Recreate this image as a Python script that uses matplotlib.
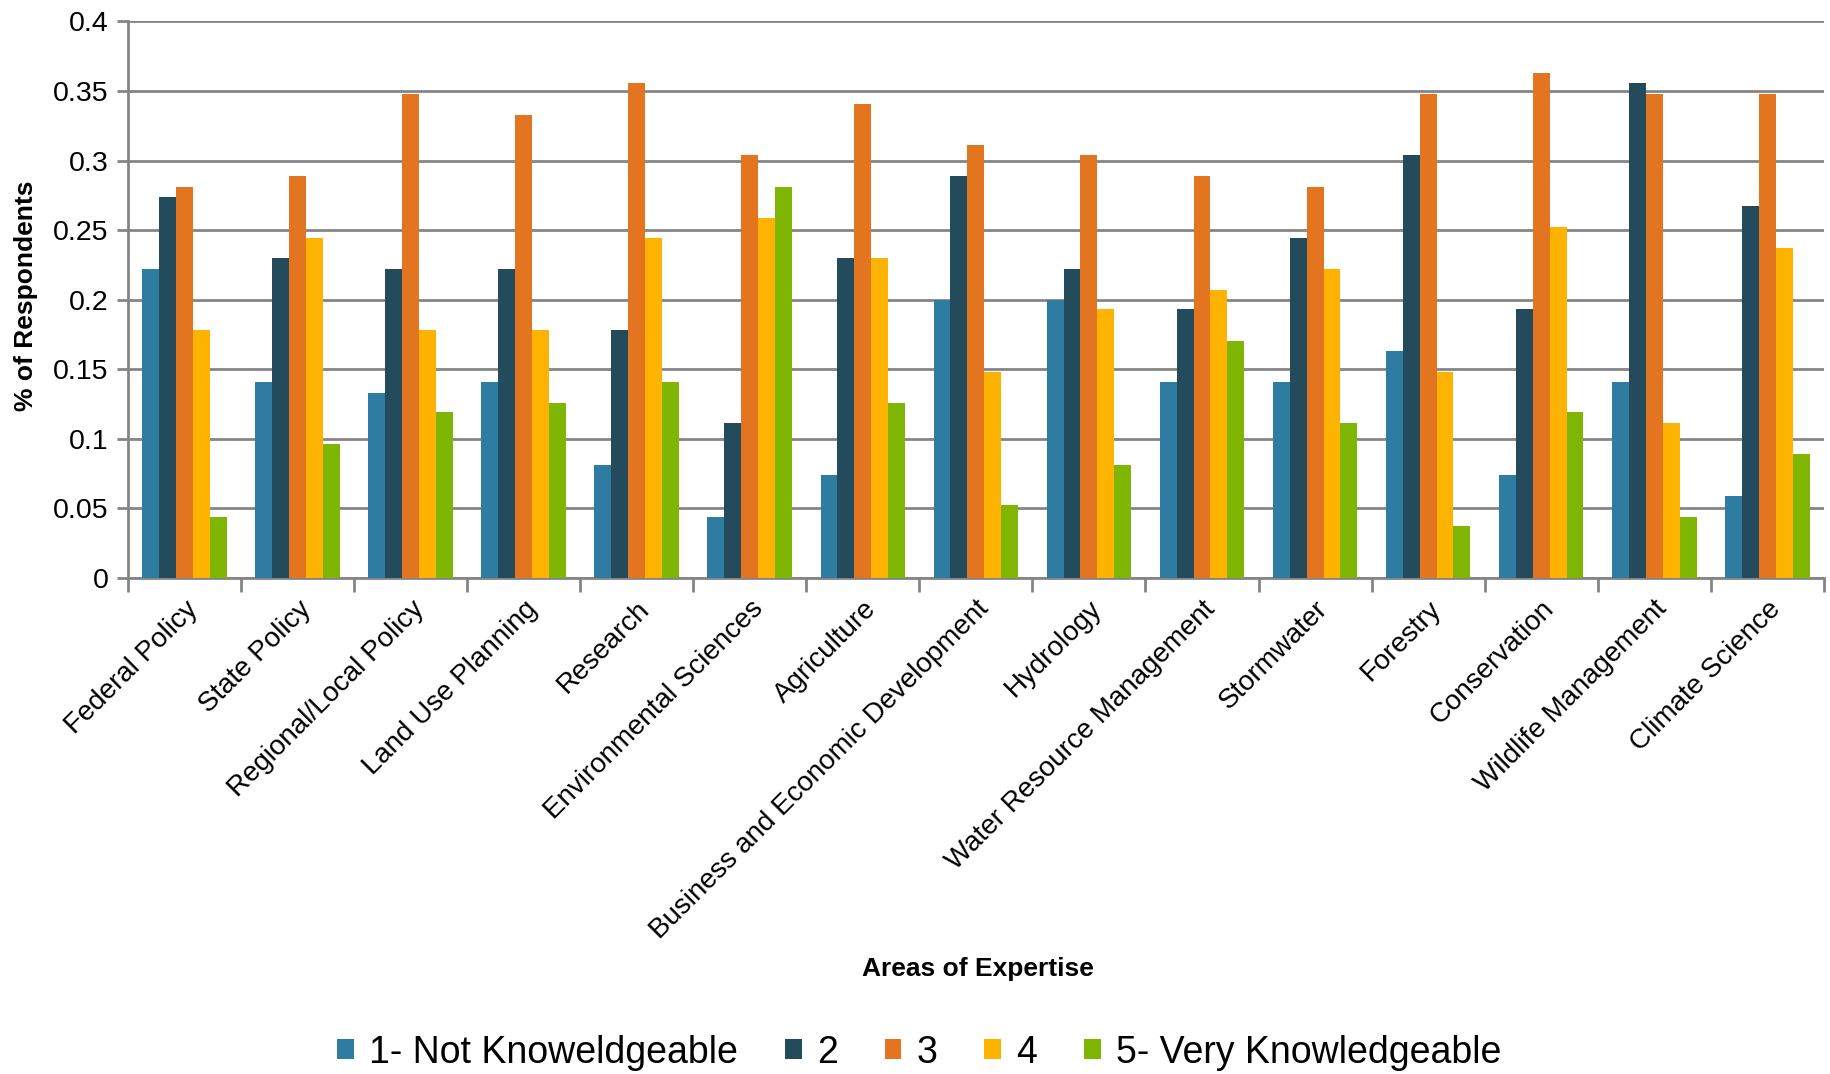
import numpy as np
import matplotlib
matplotlib.use("Agg")
import matplotlib.pyplot as plt

plt.rcParams['font.family'] = ['Liberation Sans', 'DejaVu Sans']

areas = ['Federal Policy', 'State Policy', 'Regional/Local Policy', 'Land Use Planning',
         'Research', 'Environmental Sciences', 'Agriculture',
         'Business and Economic Development', 'Hydrology', 'Water Resource Management',
         'Stormwater', 'Forestry', 'Conservation', 'Wildlife Management', 'Climate Science']

not_knowledgeable = [0.222, 0.141, 0.133, 0.141, 0.081, 0.044, 0.074, 0.200, 0.200, 0.141,
                     0.141, 0.163, 0.074, 0.141, 0.059]
level_2 = [0.274, 0.230, 0.222, 0.222, 0.178, 0.111, 0.230, 0.289, 0.222, 0.193,
           0.244, 0.304, 0.193, 0.356, 0.267]
level_3 = [0.281, 0.289, 0.348, 0.333, 0.356, 0.304, 0.341, 0.311, 0.304, 0.289,
           0.281, 0.348, 0.363, 0.348, 0.348]
level_4 = [0.178, 0.244, 0.178, 0.178, 0.244, 0.259, 0.230, 0.148, 0.193, 0.207,
           0.222, 0.148, 0.252, 0.111, 0.237]
very_knowledgeable = [0.044, 0.096, 0.119, 0.126, 0.141, 0.281, 0.126, 0.052, 0.081, 0.170,
                      0.111, 0.037, 0.119, 0.044, 0.089]

series = [not_knowledgeable, level_2, level_3, level_4, very_knowledgeable]
names = ['1- Not Knoweldgeable', '2', '3', '4', '5- Very Knowledgeable']
colors = ['#2e7ca1', '#244b5b', '#e37521', '#ffb301', '#7fb503']

fig = plt.figure(figsize=(18.31, 10.74), dpi=100)
ax = fig.add_axes([0.070, 0.462, 0.926, 0.518])

x = np.arange(len(areas))
w = 0.15
for i, (vals, name, c) in enumerate(zip(series, names, colors)):
    ax.bar(x + (i - 2) * w, vals, width=w, color=c, label=name, zorder=3)

grid_c = '#858585'
ax.set_xlim(-0.5, len(areas) - 0.5)
ax.set_ylim(0, 0.4)
ax.set_yticks(np.arange(0, 0.41, 0.05))
ax.set_yticklabels(['0', '0.05', '0.1', '0.15', '0.2', '0.25', '0.3', '0.35', '0.4'], fontsize=20.5)
ax.yaxis.grid(True, color=grid_c, linewidth=2.0, zorder=0)
ax.tick_params(axis='y', length=8, width=2.0, color=grid_c, pad=6)

# category boundaries carry the tick marks, centres carry the labels
ax.set_xticks(np.arange(-0.5, len(areas)), minor=False)
ax.set_xticklabels([])
ax.set_xticks(x, minor=True)
ax.set_xticklabels(areas, minor=True, rotation=45, ha='right', va='top',
                   rotation_mode='anchor', fontsize=20)
ax.tick_params(axis='x', which='major', length=10, width=2.0, color=grid_c)
ax.tick_params(axis='x', which='minor', length=0, pad=13)

for side in ['top', 'right']:
    ax.spines[side].set_visible(False)
for side in ['left', 'bottom']:
    ax.spines[side].set_color(grid_c)
    ax.spines[side].set_linewidth(2.0)

fig.text(0.014, 0.725, '% of Respondents', rotation=90, ha='center', va='center',
         fontsize=19, fontweight='bold')
fig.text(0.534, 0.098, 'Areas of Expertise', ha='center', va='center',
         fontsize=19, fontweight='bold')

fig.legend(loc='center', bbox_to_anchor=(0.502, 0.02), ncol=5, frameon=False,
           fontsize=27, handlelength=0.45, handleheight=0.45, handletextpad=0.4,
           columnspacing=1.25)

fig.savefig('out.png', dpi=100)
